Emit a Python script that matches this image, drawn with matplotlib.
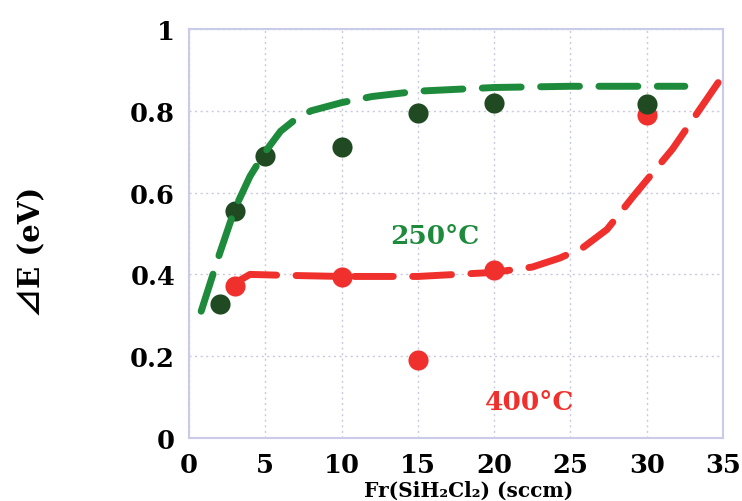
import matplotlib
matplotlib.use("Agg")
import matplotlib.pyplot as plt

# data
x_250 = [2, 3, 5, 10, 15, 20, 30]
y_250 = [0.327, 0.555, 0.69, 0.711, 0.795, 0.818, 0.817]
x_400 = [3, 10, 15, 20, 30]
y_400 = [0.372, 0.394, 0.191, 0.411, 0.79]

fit250_x = [0.8, 2, 3, 4, 5, 6, 7, 8, 10, 12, 15, 20, 25, 32.5]
fit250_y = [0.31, 0.45, 0.56, 0.64, 0.70, 0.75, 0.78, 0.80, 0.82, 0.835, 0.848, 0.857, 0.86, 0.86]
fit400_x = [3.3, 4, 6, 10, 15, 20, 22.5, 24.3, 25.8, 27.4, 29.1, 31.7, 34.7]
fit400_y = [0.385, 0.40, 0.398, 0.395, 0.395, 0.405, 0.418, 0.44, 0.465, 0.51, 0.59, 0.707, 0.87]

xticks = [0, 5, 10, 15, 20, 25, 30, 35]
yticks = [0, 0.2, 0.4, 0.6, 0.8, 1]
yticklabels = ["0", "0.2", "0.4", "0.6", "0.8", "1"]

GREEN_DOT = "#1f4a22"
GREEN_LINE = "#1e8b3c"
RED = "#f0302c"
FRAME = "#c9cbe8"

fig = plt.figure(figsize=(7.42, 5.02), dpi=100)
ax = fig.add_axes([0.2547, 0.1255, 0.7197, 0.8147])

ax.scatter(x_400, y_400, s=210, color=RED, zorder=3, linewidths=0)
ax.scatter(x_250, y_250, s=210, color=GREEN_DOT, zorder=3, linewidths=0)
ax.plot(fit250_x, fit250_y, color=GREEN_LINE, lw=5, dashes=(5.6, 2.8),
        dash_capstyle="round", zorder=4)
ax.plot(fit400_x, fit400_y, color=RED, lw=5, dashes=(5.6, 2.8),
        dash_capstyle="round", zorder=4)

ax.set_xlim(0, 35)
ax.set_ylim(0, 1)
ax.set_xticks(xticks)
ax.set_yticks(yticks)
ax.set_yticklabels(yticklabels)
ax.grid(True, color="#c8cade", linestyle=(0, (1.5, 2.5)), lw=1)
ax.set_axisbelow(True)
for s in ax.spines.values():
    s.set_color(FRAME)
    s.set_linewidth(1.5)
ax.tick_params(axis="y", length=0, pad=10)
ax.tick_params(axis="x", length=0, pad=10)
for lab in ax.get_xticklabels() + ax.get_yticklabels():
    lab.set_fontfamily("DejaVu Serif")
    lab.set_fontweight("bold")
    lab.set_fontsize(18.5)

fig.text(0.631, 0.022, "Fr(SiH\u2082Cl\u2082) (sccm)", ha="center", va="center",
         fontsize=14.5, fontweight="bold", family="DejaVu Serif")
fig.text(0.041, 0.498, "\u22bfE (eV)", rotation=90, ha="center", va="center",
         fontsize=21, fontweight="bold", family=["DejaVu Serif", "Noto Sans CJK JP"])

ax.text(16.1, 0.494, "250°C", color=GREEN_LINE, fontsize=19, fontweight="bold",
        family="DejaVu Serif", ha="center", va="center")
ax.text(22.3, 0.09, "400°C", color=RED, fontsize=19, fontweight="bold",
        family="DejaVu Serif", ha="center", va="center")

fig.savefig("out.png", dpi=100)
